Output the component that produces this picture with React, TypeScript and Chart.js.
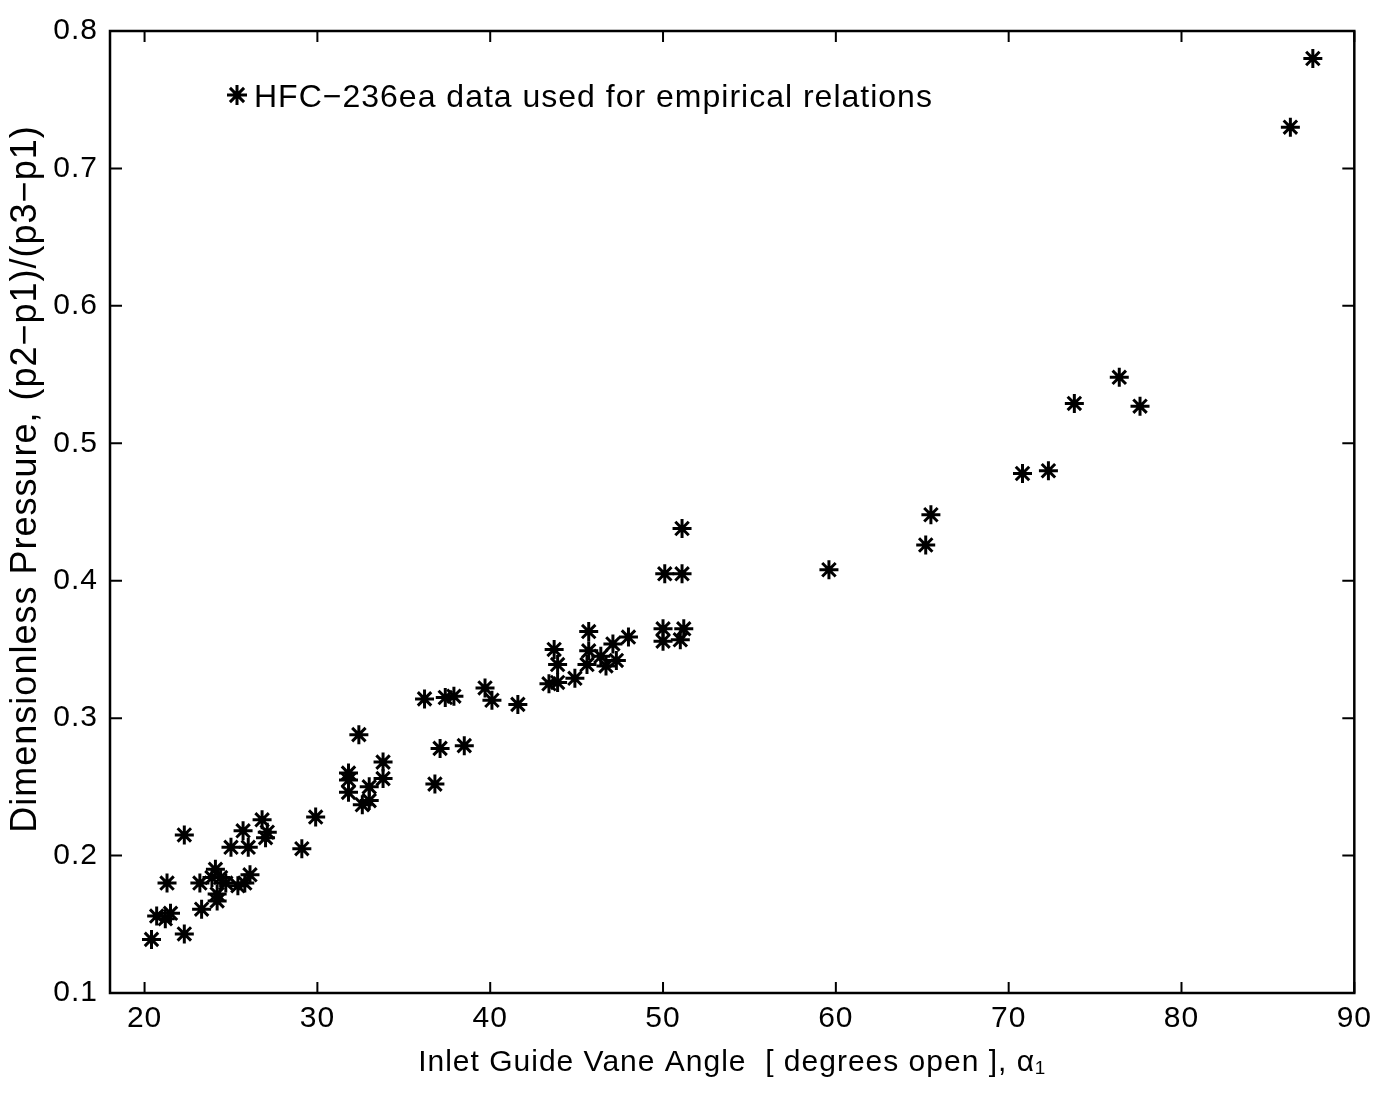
import React, { useEffect, useRef } from "react";
import { Chart, registerables } from "chart.js";

Chart.register(...registerables);

// Inlet guide vane angle (degrees open)
const angleDeg = [
  87.6, 86.3, 76.4, 73.8, 77.6, 70.8, 72.3, 65.5, 65.2, 59.6,
  51.1, 50.1, 51.1, 50.0, 51.2, 50.0, 51.0, 48.0, 47.1, 45.7,
  45.7, 45.6, 46.4, 46.7, 47.3, 43.7, 43.9, 43.4, 43.9, 44.9,
  41.6, 39.7, 40.1, 36.2, 37.4, 37.9, 37.1, 38.5, 36.8, 32.4,
  33.8, 33.8, 31.8, 31.8, 31.8, 33.0, 32.6, 33.0, 29.9, 29.1,
  22.3, 26.8, 25.7, 27.1, 27.0, 25.0, 26.0, 21.3, 23.2, 24.1,
  23.9, 24.7, 25.8, 26.1, 25.4, 24.2, 24.2, 23.3, 20.7, 21.5,
  21.2, 20.4, 22.3, 24.4,
];

// Dimensionless pressure (p2-p1)/(p3-p1)
const pressureRatio = [
  0.780, 0.730, 0.548, 0.529, 0.527, 0.478, 0.480, 0.448, 0.426, 0.408,
  0.438, 0.405, 0.405, 0.365, 0.365, 0.356, 0.357, 0.359, 0.354, 0.363,
  0.349, 0.339, 0.345, 0.338, 0.342, 0.350, 0.339, 0.325, 0.326, 0.329,
  0.310, 0.322, 0.313, 0.314, 0.315, 0.316, 0.278, 0.280, 0.252, 0.288,
  0.268, 0.256, 0.260, 0.255, 0.246, 0.250, 0.237, 0.240, 0.228, 0.205,
  0.215, 0.226, 0.218, 0.217, 0.213, 0.206, 0.206, 0.180, 0.180, 0.190,
  0.184, 0.180, 0.180, 0.186, 0.178, 0.172, 0.167, 0.161, 0.156, 0.158,
  0.154, 0.139, 0.143, 0.184,
];

const xTickValues = [20, 30, 40, 50, 60, 70, 80, 90];
const yTickValues = [0.1, 0.2, 0.3, 0.4, 0.5, 0.6, 0.7, 0.8];
const xMin = 18;
const xMax = 90;
const yMin = 0.1;
const yMax = 0.8;

const seriesLabel = "HFC\u2212236ea data used for empirical relations";
const xTitle = "Inlet Guide Vane Angle  [ degrees open ], \u03b1\u2081";
const yTitle = "Dimensionless Pressure, (p2\u2212p1)/(p3\u2212p1)";

const FONT = '"Liberation Sans", Arial, Helvetica, sans-serif';

const spacingPlugin = {
  id: "spacing",
  beforeDraw(chart: any) {
    chart.ctx.letterSpacing = "1px";
  },
};

const frameAndLegendPlugin = {
  id: "frameAndLegend",
  afterDraw(chart: any) {
    const { ctx, chartArea, scales } = chart;
    const { left, right, top, bottom } = chartArea;
    const xs = scales.x;
    const ys = scales.y;
    ctx.save();
    ctx.strokeStyle = "#000";
    ctx.lineWidth = 2.5;
    ctx.strokeRect(left, top, right - left, bottom - top);
    ctx.lineWidth = 2;
    ctx.beginPath();
    xs.ticks.forEach((t: any) => {
      const px = xs.getPixelForValue(t.value);
      ctx.moveTo(px, bottom);
      ctx.lineTo(px, bottom - 11);
      ctx.moveTo(px, top);
      ctx.lineTo(px, top + 11);
    });
    ys.ticks.forEach((t: any) => {
      const py = ys.getPixelForValue(t.value);
      ctx.moveTo(left, py);
      ctx.lineTo(left + 12, py);
      ctx.moveTo(right, py);
      ctx.lineTo(right - 12, py);
    });
    ctx.stroke();

    // legend (inside the axes, top-left)
    const cx = left + 127;
    const cy = top + 64;
    const r = 10;
    ctx.lineWidth = 3;
    ctx.beginPath();
    for (let k = 0; k < 4; k++) {
      const a = (k * Math.PI) / 4;
      ctx.moveTo(cx - r * Math.cos(a), cy - r * Math.sin(a));
      ctx.lineTo(cx + r * Math.cos(a), cy + r * Math.sin(a));
    }
    ctx.stroke();
    ctx.fillStyle = "#000";
    ctx.font = `32px ${FONT}`;
    ctx.letterSpacing = "1px";
    ctx.textBaseline = "middle";
    ctx.textAlign = "left";
    ctx.fillText(seriesLabel, cx + 17, cy + 3);
    ctx.restore();
  },
};

export default function App() {
  const canvasRef = useRef<HTMLCanvasElement>(null);

  useEffect(() => {
    if (!canvasRef.current) return;
    const points = angleDeg.map((a, i) => ({ x: a, y: pressureRatio[i] }));
    const chart = new Chart(canvasRef.current, {
      type: "scatter",
      data: {
        datasets: [
          {
            label: seriesLabel,
            data: points,
            pointStyle: "star",
            pointRadius: 9.5,
            pointHoverRadius: 9.5,
            borderColor: "#000",
            backgroundColor: "#000",
            borderWidth: 3,
          },
        ],
      },
      options: {
        responsive: false,
        animation: false,
        events: [],
        layout: { padding: { left: 0, right: 23, top: 23, bottom: 0 } },
        plugins: {
          legend: { display: false },
          tooltip: { enabled: false },
        },
        scales: {
          x: {
            type: "linear",
            min: xMin,
            max: xMax,
            afterBuildTicks: (axis: any) => {
              axis.ticks = xTickValues.map((v) => ({ value: v }));
            },
            afterFit: (axis: any) => {
              axis.height = 94;
            },
            grid: { display: false, drawTicks: false },
            border: { display: false },
            ticks: {
              color: "#000",
              font: { family: FONT, size: 30 },
              padding: 8,
              maxRotation: 0,
              autoSkip: false,
              callback: (v: any) => String(v),
            },
            title: {
              display: true,
              text: xTitle,
              color: "#000",
              font: { family: FONT, size: 30, lineHeight: 1 },
              padding: { top: 0, bottom: 9 },
            },
          },
          y: {
            type: "linear",
            min: yMin,
            max: yMax,
            afterBuildTicks: (axis: any) => {
              axis.ticks = yTickValues.map((v) => ({ value: v }));
            },
            afterFit: (axis: any) => {
              axis.width = 102;
              axis.paddingTop = 0;
              axis.paddingBottom = 0;
            },
            grid: { display: false, drawTicks: false },
            border: { display: false },
            ticks: {
              color: "#000",
              font: { family: FONT, size: 30, lineHeight: 0.9 },
              padding: 12,
              autoSkip: false,
              callback: (v: any) => Number(v).toFixed(1),
            },
            title: {
              display: true,
              text: "\u00a0\u00a0\u00a0\u00a0\u00a0\u00a0" + yTitle,
              color: "#000",
              font: { family: FONT, size: 36, lineHeight: 1 },
              padding: { top: 0, bottom: 0 },
            },
          },
        },
      },
      plugins: [spacingPlugin, frameAndLegendPlugin],
    });
    return () => chart.destroy();
  }, []);

  return (
    <div style={{ width: 1371, height: 1079 }}>
      <canvas ref={canvasRef} width={1371} height={1079} style={{ display: "block" }} />
    </div>
  );
}
